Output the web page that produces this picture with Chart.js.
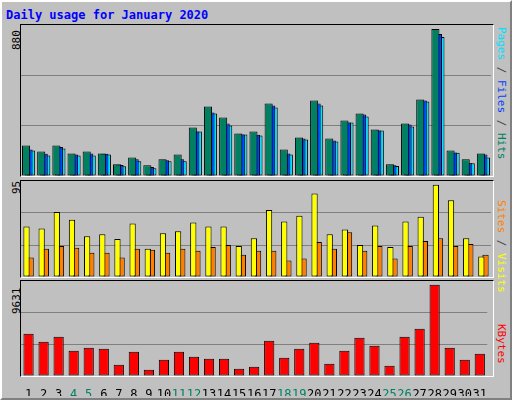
<!DOCTYPE html>
<html><head><meta charset="utf-8">
<script src="https://cdn.jsdelivr.net/npm/chart.js@4/dist/chart.umd.min.js"></script>
<style>
body{margin:0;background:#fff}
#wrap{position:absolute;left:0;top:0;width:508px;height:396px;background:#c0c0c0;border-left:2px solid #fff;border-top:2px solid #fff;border-right:2px solid #808080;border-bottom:2px solid #808080}
.title{position:absolute;left:4px;top:6px;font:bold 12px "DejaVu Sans Mono",monospace;color:#0000ff}
.panel{position:absolute;left:18px;width:472px;border-top:1px solid #000;border-left:1px solid #000;border-right:1px solid #fff;border-bottom:1px solid #fff}
.rl{position:absolute;font:11px "DejaVu Sans Mono",monospace;white-space:nowrap;transform-origin:0 0}
.ll{transform:rotate(-90deg)}
.rr{transform:rotate(90deg)}
canvas{position:absolute}
</style></head><body>
<div id="wrap">
<div class="title">Daily usage for January 2020</div>
<div class="panel" style="top:22px;height:151px"></div>
<div class="panel" style="top:178px;height:96px"></div>
<div class="panel" style="top:278px;height:95px"></div>
<div class="rl ll" style="left:8px;top:48px">880</div>
<div class="rl ll" style="left:8px;top:192px">95</div>
<div class="rl ll" style="left:8px;top:312px">9631</div>
<div class="rl rr" style="left:506px;top:25px"><span style="color:#00e0ff">Pages</span><span style="color:#404040"> / </span><span style="color:#0040ff">Files</span><span style="color:#404040"> / </span><span style="color:#008060">Hits</span></div>
<div class="rl rr" style="left:506px;top:198px"><span style="color:#ff8000">Sites</span><span style="color:#404040"> / </span><span style="color:#ffff00">Visits</span></div>
<div class="rl rr" style="left:506px;top:322px"><span style="color:#ff0000">KBytes</span></div>
</div>
<canvas id="c1" style="left:21px;top:25px"></canvas>
<canvas id="c2" style="left:21px;top:181px"></canvas>
<canvas id="c3" style="left:21px;top:281px"></canvas>
<script>
const days=[...Array(31)].map((_,i)=>String(i+1));
const weekend=[4,5,11,12,18,19,25,26];
const hits=[183,147,183,135,147,135,70,111,64,100,129,291,416,350,255,267,434,159,231,452,225,332,374,279,70,315,458,880,153,100,135];
const files=[159,133,173,129,135,133,66,100,54,94,100,267,380,315,249,247,422,135,225,434,213,320,368,273,64,309,452,850,141,76,129];
const pages=[153,123,165,123,123,129,58,88,46,88,88,267,374,303,249,243,410,129,219,422,207,320,356,273,60,297,446,832,139,76,111];
const visits=[52,50,67,59,42,44,39,55,29,45,47,56,52,52,32,40,69,57,63,86,44,49,33,53,31,57,62,95,79,40,21];
const sites=[20,29,32,30,25,25,20,29,28,25,29,27,31,33,23,27,27,17,19,36,29,46,27,32,19,32,37,40,32,34,23];
const kbytes=[4464,3620,4148,2671,2988,2882,1195,2566,668,1722,2566,2039,1828,1828,773,984,3726,1933,2882,3515,1301,2671,4042,3199,1090,4148,4991,9631,2988,1722,2355];
const hitsMax=880,visitsMax=95,kbMax=9631;
const ds=(d,c,o)=>Object.assign({data:d,backgroundColor:c,borderColor:'#000',borderWidth:1,borderSkipped:false},o||{});
function mk(id,w,h,datasets,max,catPct,barPct,showX){
  const cv=document.getElementById(id);cv.width=w;cv.height=h;cv.style.width=w+'px';cv.style.height=h+'px';
  const x={display:showX,grid:{display:false},border:{display:false},
           ticks:{padding:4,autoSkip:false,maxRotation:0,font:{family:'DejaVu Sans Mono',size:12},
             color:c=>weekend.includes(c.index+1)?'#008060':'#000'}};
  if(showX) x.afterFit=s=>{s.height=20};
  return new Chart(cv,{type:'bar',data:{labels:days,datasets},
    options:{responsive:false,animation:false,devicePixelRatio:1,layout:{padding:0},
      plugins:{legend:{display:false},tooltip:{enabled:false}},
      datasets:{bar:{categoryPercentage:catPct,barPercentage:barPct}},
      scales:{
        x:x,
        y:{min:0,max:max,ticks:{display:false,count:4},border:{display:false},
           grid:{drawTicks:false,lineWidth:1,color:c=>(c.index===1||c.index===2)?'#808080':'rgba(0,0,0,0)'},
           afterFit:s=>{s.width=0}}
      }}});
}
mk('c1',470,151,[ds(hits,'#008060'),ds(files,'#0040ff'),ds(pages,'#00e0ff')],hitsMax*151/147,0.5,3.2,false);
mk('c2',470,96,[ds(visits,'#ffff00'),ds(sites,'#ff8000')],visitsMax*96/92.3,0.55,1.5,false);
mk('c3',470,115,[ds(kbytes,'#ff0000')],kbMax*95/91.3,0.68,1,true);
</script>
</body></html>
